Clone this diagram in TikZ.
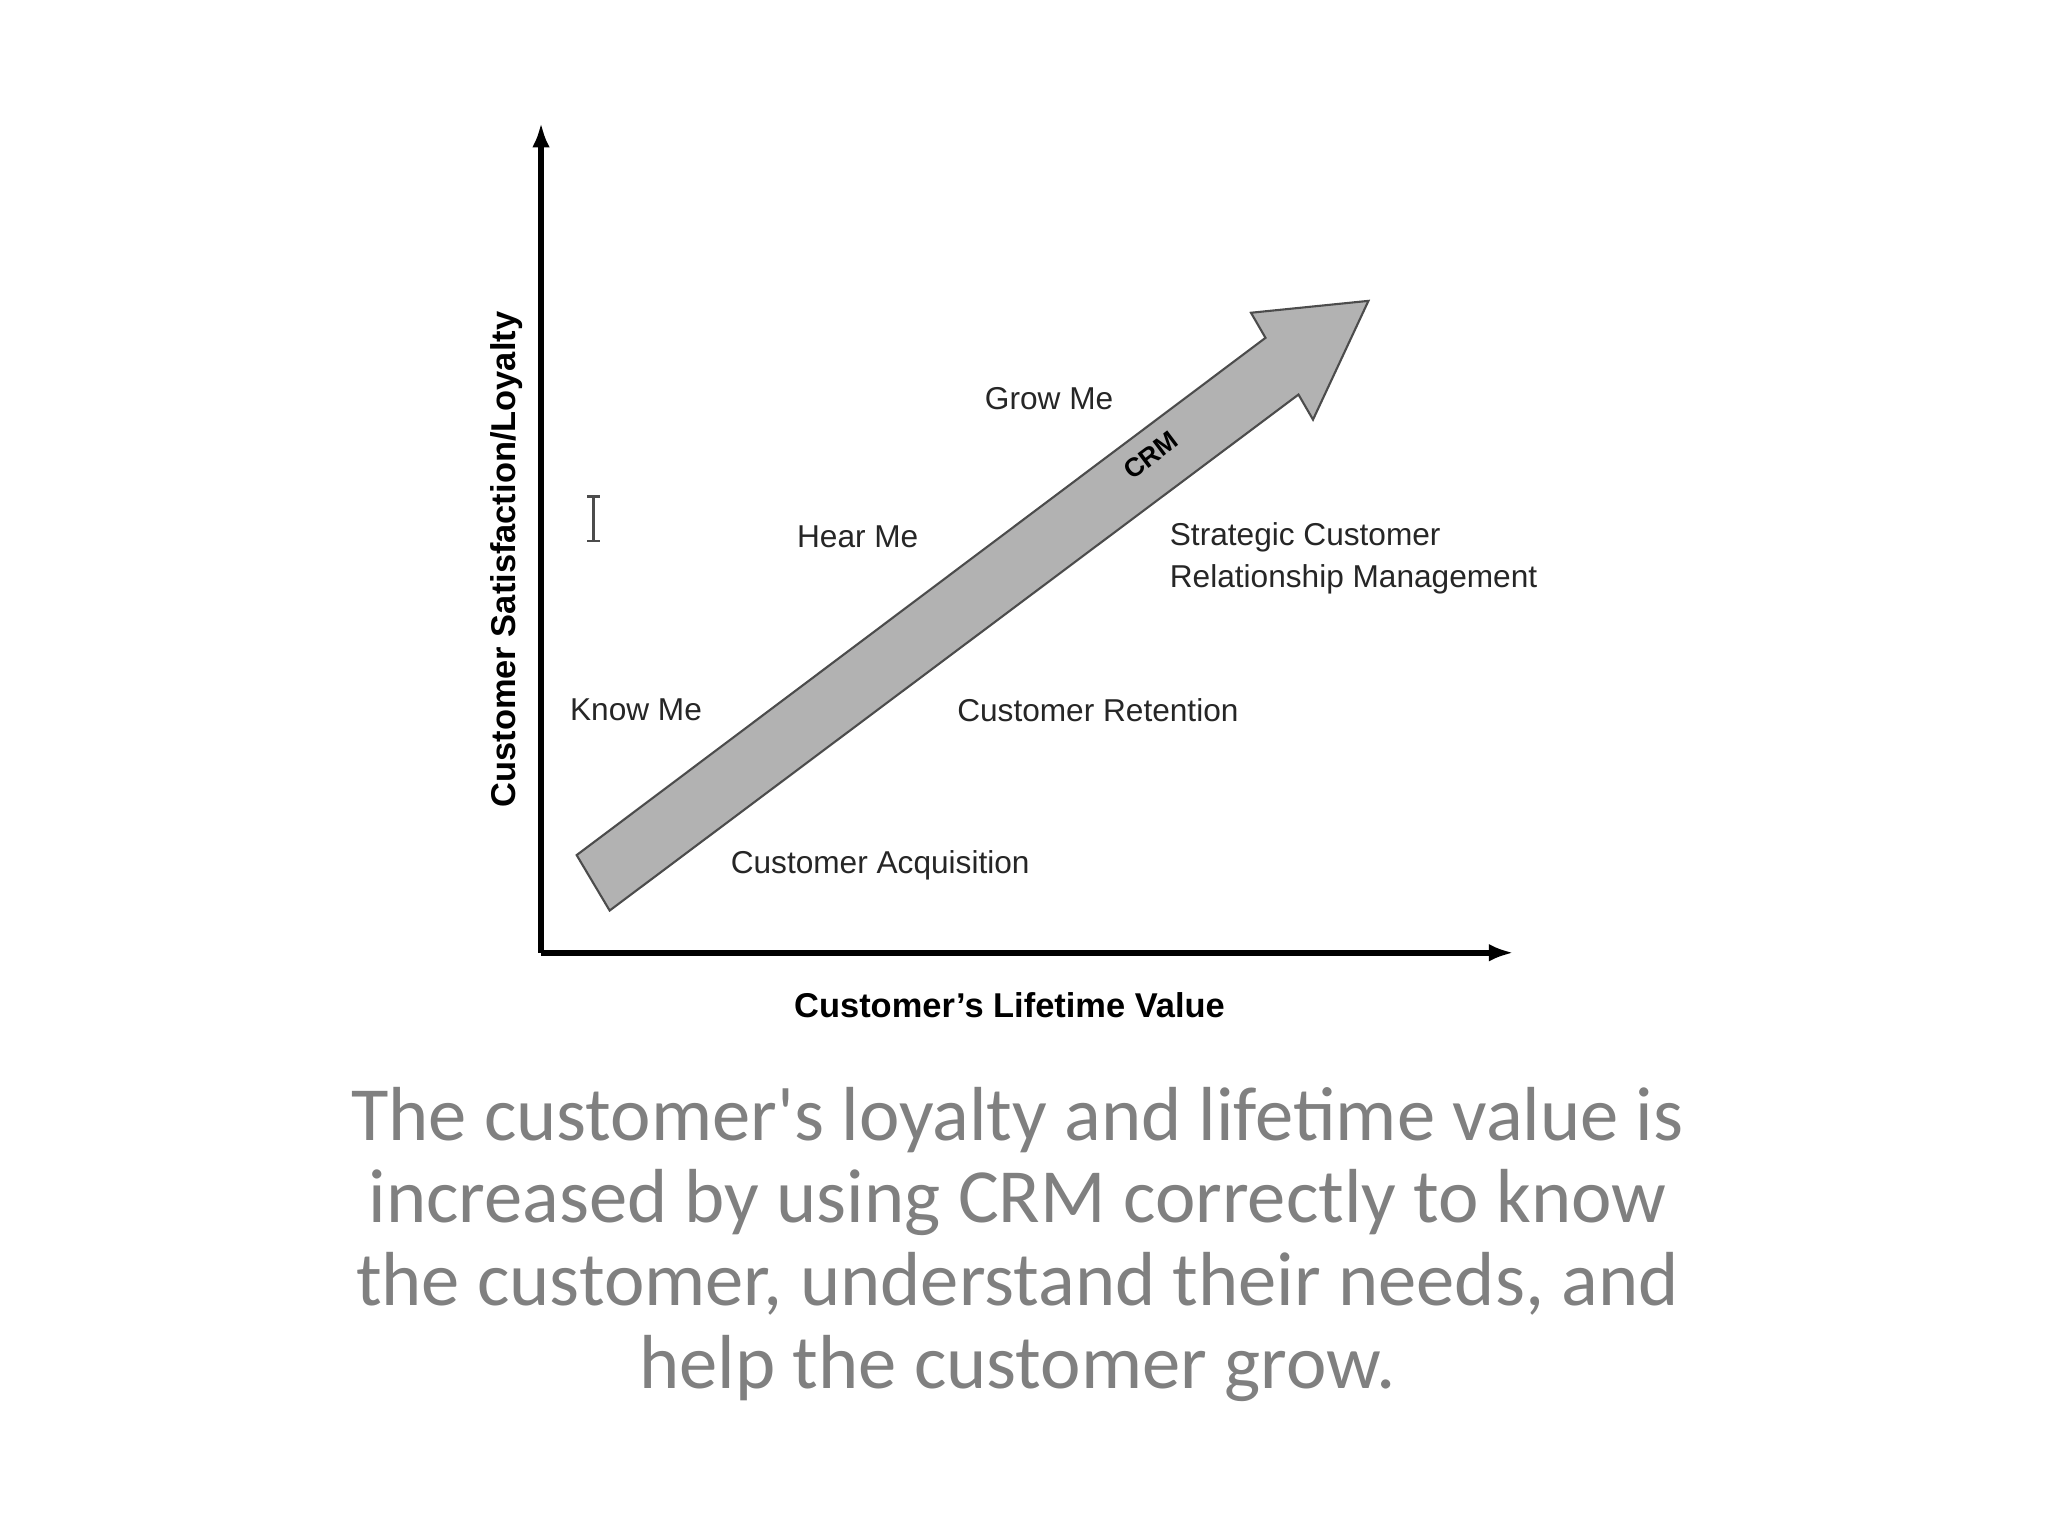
\documentclass[tikz,border=0pt]{standalone}
\usepackage{fontspec}
\setmainfont{Liberation Sans}
\newfontfamily\capfont{Carlito}
\begin{document}
\begin{tikzpicture}[x=0.0132cm,y=-0.0132cm,
  lbl/.style={font=\fontsize{9}{11}\selectfont, text=black!85, inner sep=0pt},
  axlbl/.style={font=\bfseries\fontsize{9.8}{12}\selectfont, inner sep=0pt},
  ax/.style={line width=1.6pt, -{Latex[length=7pt,width=5pt]}}]
\usetikzlibrary{arrows.meta}
\useasboundingbox (0,0) rectangle (1552,1164);
\fill[white] (0,0) rectangle (1552,1164);
\coordinate (o) at (410,722);
\coordinate (ytop) at (410,93);
\coordinate (xend) at (1147,722);
\draw[ax] (o) -- (ytop);
\draw[ax] (o) -- (xend);
\node[axlbl, rotate=90] (ylab) at (384,424) {Customer Satisfaction/Loyalty};
\node[axlbl] (xlab) at (765,762) {Customer’s Lifetime Value};
\draw[fill=black!30, draw=black!70, line width=0.6pt]
  (437,648) -- (959,256) -- (948,237) -- (1037,228) -- (995,318) -- (984,299) -- (462,690) -- cycle;
\node[font=\bfseries\fontsize{7.5}{9}\selectfont, rotate=37, inner sep=0pt] (crm) at (872,345) {CRM};
\node[lbl] (grow) at (795,302) {Grow Me};
\node[lbl] (hear) at (650,407) {Hear Me};
\node[lbl, anchor=west, align=left] (scrm) at (886,423) {Strategic Customer\\[1pt]Relationship Management};
\node[lbl] (know) at (482,538) {Know Me};
\node[lbl] (ret) at (832,538) {Customer Retention};
\node[lbl] (acq) at (667,656) {Customer Acquisition};
\draw[black!70, line width=0.8pt] (450,376) -- (450,410) (445,376) -- (455,376) (445,410) -- (455,410);
\node[font=\capfont\fontsize{21.8}{23.6}\selectfont, text=black!50, align=center] (cap) at (771,943)
 {The customer's loyalty and lifetime value is\\increased by using CRM correctly to know\\the customer, understand their needs, and\\help the customer grow.};
\end{tikzpicture}
\end{document}
